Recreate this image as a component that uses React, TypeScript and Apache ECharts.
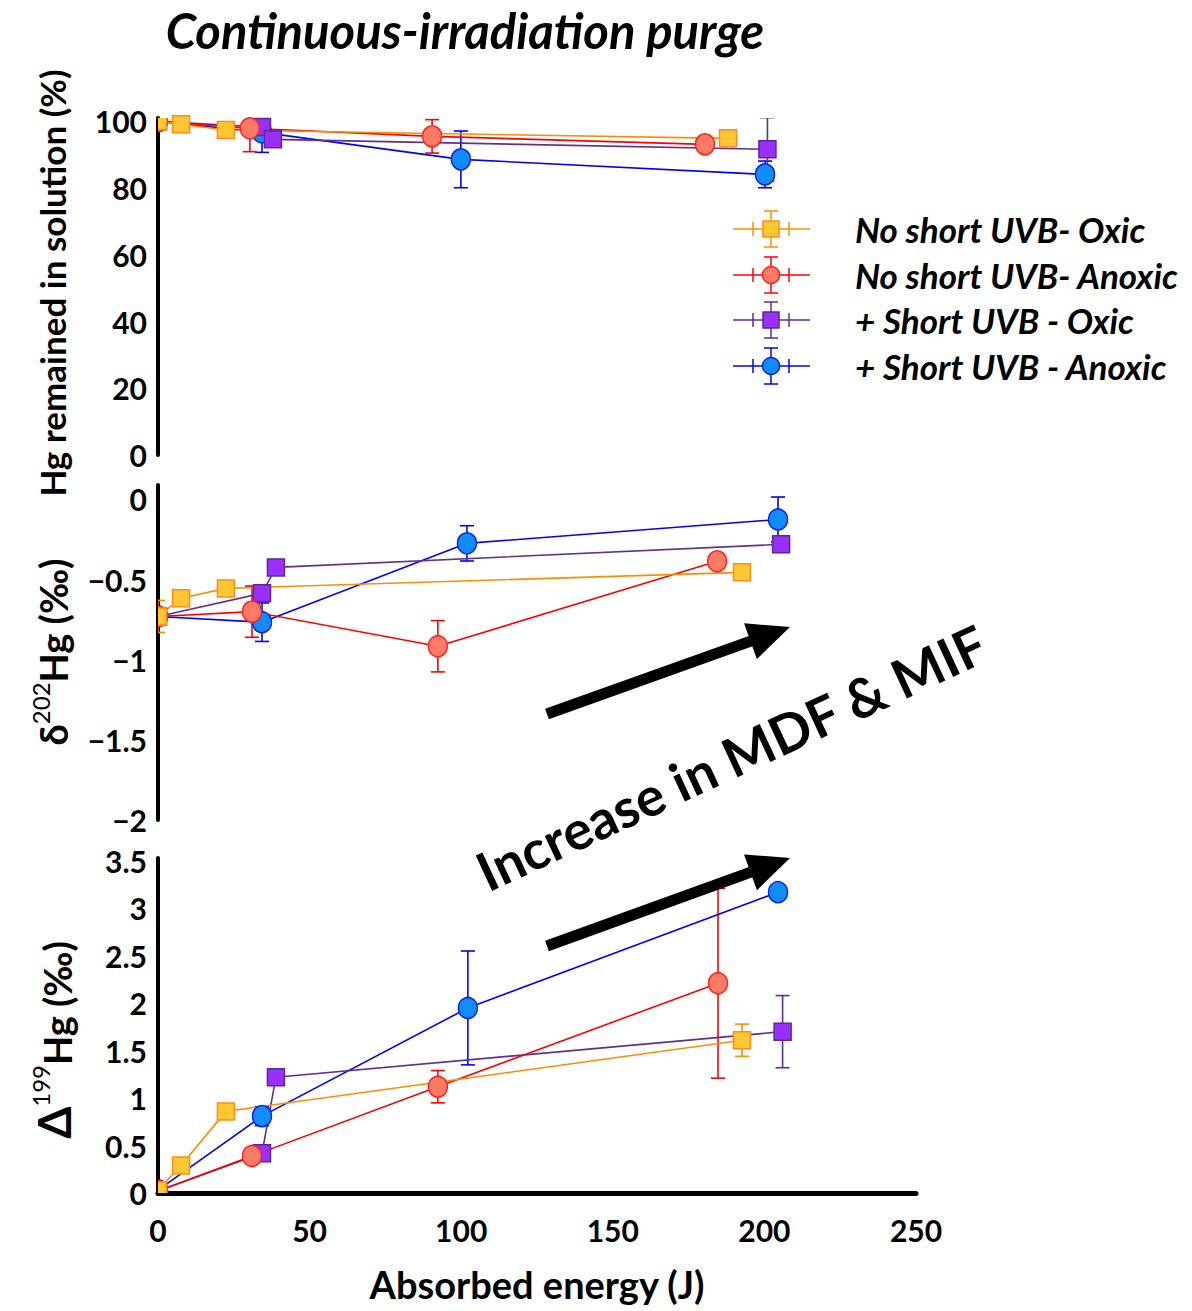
import React, { useEffect, useRef } from "react";
import * as echarts from "echarts";

// ---------- data: [absorbed energy (J), value, error] ----------
const X_MIN = 0;
const X_MAX = 250;
const X_INTERVAL = 50;

// Panel 1: Hg remained in solution (%)
const HG_NO_OXIC = [[0, 100, 0.5], [7.6, 99.1, 0.5], [22.4, 97.4, 0.8], [188, 94.9, 1]];
const HG_NO_ANOXIC = [[0, 100, 0], [30.3, 97.9, 7], [90.4, 95.5, 5], [180.4, 93.1, 1.5]];
const HG_SH_OXIC = [[0, 100, 0], [34.3, 98.3, 3], [37.9, 94.6, 1], [201, 91.6, 9.5]];
const HG_SH_ANOXIC = [[0, 100, 0], [34.3, 96.7, 6], [99.9, 88.6, 8.5], [200.2, 84.1, 4]];

// Panel 2: δ202Hg (‰)
const D202_NO_OXIC = [[0, -0.73, 0.1], [7.6, -0.617, 0.04], [22.4, -0.555, 0.04], [192.6, -0.455, 0.01]];
const D202_NO_ANOXIC = [[0, -0.73, 0], [31, -0.7, 0.16], [92.3, -0.916, 0.16], [184.4, -0.386, 0.02]];
const D202_SH_OXIC = [[0, -0.73, 0], [34.3, -0.586, 0.04], [38.9, -0.424, 0.02], [205.5, -0.28, 0.05]];
const D202_SH_ANOXIC = [[0, -0.73, 0], [34.3, -0.766, 0.12], [101.9, -0.274, 0.11], [204.5, -0.125, 0.14]];

// Panel 3: Δ199Hg (‰)
const D199_NO_OXIC = [[0, 0.03, 0.02], [7.6, 0.29, 0.03], [22.4, 0.86, 0.07], [192.6, 1.61, 0.17]];
const D199_NO_ANOXIC = [[0, 0.02, 0], [31, 0.39, 0.06], [92.3, 1.12, 0.17], [184.7, 2.21, 1.0]];
const D199_SH_OXIC = [[0, 0.02, 0], [34.3, 0.42, 0.03], [38.9, 1.22, 0.02], [206, 1.7, 0.38]];
const D199_SH_ANOXIC = [[0, 0.03, 0], [34.3, 0.81, 0.1], [102.2, 1.95, 0.6], [204.5, 3.17, 0.03]];

const LEGEND_LABELS = [
  "No short UVB- Oxic",
  "No short UVB- Anoxic",
  "+ Short UVB - Oxic",
  "+ Short UVB - Anoxic",
];

const PANEL_DATA = [
  [HG_NO_OXIC, HG_NO_ANOXIC, HG_SH_OXIC, HG_SH_ANOXIC],
  [D202_NO_OXIC, D202_NO_ANOXIC, D202_SH_OXIC, D202_SH_ANOXIC],
  [D199_NO_OXIC, D199_NO_ANOXIC, D199_SH_OXIC, D199_SH_ANOXIC],
];

// y-axis settings per panel: min, max (slightly above top tick), interval
const Y_AXES = [
  { min: 0, max: 101, interval: 20 },
  { min: -2, max: 0.09, interval: 0.5 },
  { min: 0, max: 3.53, interval: 0.5 },
];

// ---------- styles ----------
const GROUP_STYLES = [
  { fill: "#FFC832", stroke: "#FF8C1A", line: "#FF8C00", symbol: "rect" },
  { fill: "#FF7B66", stroke: "#FF2020", line: "#FF0000", symbol: "circle" },
  { fill: "#9930FF", stroke: "#5B2A8F", line: "#5E2E91", symbol: "rect" },
  { fill: "#108CFF", stroke: "#1020E0", line: "#0000FF", symbol: "circle" },
];
// draw order (first = bottom)
const DRAW_ORDER = [3, 2, 1, 0];

const FONT = "Lato, 'Open Sans', sans-serif";

const GRIDS = [
  { left: 158, width: 758, top: 118, height: 337 },
  { left: 158, width: 758, top: 485, height: 335 },
  { left: 158, width: 758, top: 858, height: 335 },
];

function fmtTick(v: number, interval: number) {
  const k = v / interval;
  if (Math.abs(k - Math.round(k)) > 1e-6) return "";
  if (v < 0) return "\u2212" + String(Math.abs(v));
  return String(v);
}

function arrow(tail: number[], tip: number[]) {
  const dx = tip[0] - tail[0];
  const dy = tip[1] - tail[1];
  const len = Math.sqrt(dx * dx + dy * dy);
  const ux = dx / len, uy = dy / len;
  const nx = -uy, ny = ux;
  const headLen = 42, headHalf = 19;
  const base = [tip[0] - ux * headLen, tip[1] - uy * headLen];
  return [
    {
      type: "line",
      z: 100,
      shape: { x1: tail[0], y1: tail[1], x2: base[0] + ux * 4, y2: base[1] + uy * 4 },
      style: { stroke: "#000", lineWidth: 11 },
    },
    {
      type: "polygon",
      z: 100,
      shape: {
        points: [
          [tip[0], tip[1]],
          [base[0] + nx * headHalf, base[1] + ny * headHalf],
          [base[0] - nx * headHalf, base[1] - ny * headHalf],
        ],
      },
      style: { fill: "#000" },
    },
  ];
}

function legendItem(i: number, y: number) {
  const s = GROUP_STYLES[i];
  const cx = 771;
  const st = { stroke: s.line, lineWidth: 1.5 };
  const els: any[] = [
    { type: "line", shape: { x1: 733, y1: y, x2: 810, y2: y }, style: st },
    { type: "line", shape: { x1: 753, y1: y - 7, x2: 753, y2: y + 7 }, style: st },
    { type: "line", shape: { x1: 789, y1: y - 7, x2: 789, y2: y + 7 }, style: st },
    { type: "line", shape: { x1: cx, y1: y - 18, x2: cx, y2: y + 18 }, style: st },
    { type: "line", shape: { x1: cx - 7, y1: y - 18, x2: cx + 7, y2: y - 18 }, style: st },
    { type: "line", shape: { x1: cx - 7, y1: y + 18, x2: cx + 7, y2: y + 18 }, style: st },
  ];
  if (s.symbol === "rect") {
    els.push({ type: "rect", shape: { x: cx - 8, y: y - 8, width: 16, height: 16 }, style: { fill: s.fill, stroke: s.stroke, lineWidth: 1.5 } });
  } else {
    els.push({ type: "circle", shape: { cx, cy: y, r: 8.5 }, style: { fill: s.fill, stroke: s.stroke, lineWidth: 1.5 } });
  }
  els.push({
    type: "text",
    x: 855,
    y,
    style: {
      text: LEGEND_LABELS[i],
      font: `italic bold 35px ${FONT}`,
      fill: "#000",
      textVerticalAlign: "middle",
      verticalAlign: "middle",
    },
  });
  return { type: "group", children: els };
}

export default function App() {
  const ref = useRef<HTMLDivElement>(null);

  useEffect(() => {
    if (!ref.current) return;
    const chart = echarts.init(ref.current, undefined, { renderer: "svg" });

    const xAxes = GRIDS.map((_, i) => ({
      type: "value",
      gridIndex: i,
      min: X_MIN,
      max: X_MAX,
      interval: X_INTERVAL,
      show: i === 2,
      splitLine: { show: false },
      axisTick: { show: false },
      axisLine: { show: i === 2, onZero: false, lineStyle: { color: "#000", width: 5 } },
      axisLabel: {
        show: i === 2,
        margin: 22,
        fontSize: 30,
        fontWeight: "bold",
        fontFamily: FONT,
        color: "#000",
      },
    }));

    const yAxes = Y_AXES.map((a, i) => ({
      type: "value",
      gridIndex: i,
      min: a.min,
      max: a.max,
      interval: a.interval,
      splitLine: { show: false },
      axisTick: { show: false },
      axisLine: { show: true, onZero: false, lineStyle: { color: "#000", width: 4 } },
      axisLabel: {
        margin: 11,
        fontSize: 30,
        fontWeight: "bold",
        fontFamily: FONT,
        color: "#000",
        formatter: (v: number) => fmtTick(v, a.interval),
      },
    }));

    const series: any[] = [];
    PANEL_DATA.forEach((groups, p) => {
      DRAW_ORDER.forEach((g) => {
        const data = groups[g];
        const s = GROUP_STYLES[g];
        // error bars
        series.push({
          type: "custom",
          xAxisIndex: p,
          yAxisIndex: p,
          z: 2,
          clip: true,
          data,
          encode: { x: 0, y: 1 },
          renderItem: (params: any, api: any) => {
            const x = api.value(0);
            const y = api.value(1);
            const e = api.value(2);
            if (!e) return null;
            const top = api.coord([x, y + e]);
            const bot = api.coord([x, y - e]);
            const cw = 7;
            const st = { stroke: s.line, lineWidth: 1.6 };
            return {
              type: "group",
              children: [
                { type: "line", shape: { x1: top[0], y1: top[1], x2: bot[0], y2: bot[1] }, style: st },
                { type: "line", shape: { x1: top[0] - cw, y1: top[1], x2: top[0] + cw, y2: top[1] }, style: st },
                { type: "line", shape: { x1: bot[0] - cw, y1: bot[1], x2: bot[0] + cw, y2: bot[1] }, style: st },
              ],
            };
          },
        });
        // lines + markers (points on the y axis are drawn clipped below)
        series.push({
          type: "line",
          name: LEGEND_LABELS[g],
          xAxisIndex: p,
          yAxisIndex: p,
          z: 3,
          data: data.map((d) =>
            d[0] === X_MIN ? { value: [d[0], d[1]], symbolSize: 0 } : [d[0], d[1]]
          ),
          symbol: s.symbol,
          symbolSize: s.symbol === "rect" ? 17 : [19, 21],
          showAllSymbol: true,
          lineStyle: { color: s.line, width: 1.6 },
          itemStyle: { color: s.fill, borderColor: s.stroke, borderWidth: 1.5 },
          emphasis: { disabled: true },
        });
        // markers at x = 0, clipped to the plot area
        series.push({
          type: "custom",
          xAxisIndex: p,
          yAxisIndex: p,
          z: 4,
          clip: true,
          data: data.filter((d) => d[0] === X_MIN),
          encode: { x: 0, y: 1 },
          renderItem: (params: any, api: any) => {
            const c = api.coord([api.value(0), api.value(1)]);
            const st = { fill: s.fill, stroke: s.stroke, lineWidth: 1.5 };
            if (s.symbol === "rect") {
              return { type: "rect", shape: { x: c[0] - 8.5, y: c[1] - 8.5, width: 17, height: 17 }, style: st };
            }
            return { type: "ellipse", shape: { cx: c[0], cy: c[1], rx: 9.5, ry: 10.5 }, style: st };
          },
        });
      });
    });

    const graphic: any[] = [
      {
        type: "text",
        x: 465,
        y: 30,
        style: {
          text: "Continuous-irradiation purge",
          font: `italic bold 49px ${FONT}`,
          fill: "#000",
          textAlign: "center",
          textVerticalAlign: "middle",
          align: "center",
          verticalAlign: "middle",
        },
      },
      {
        type: "text",
        x: 52,
        y: 283,
        rotation: Math.PI / 2,
        style: {
          text: "Hg remained in solution (%)",
          font: `bold 35px ${FONT}`,
          fill: "#000",
          align: "center",
          verticalAlign: "middle",
          textAlign: "center",
          textVerticalAlign: "middle",
        },
      },
      {
        type: "text",
        x: 50,
        y: 652,
        rotation: Math.PI / 2,
        style: {
          text: "{m|δ}{s|202}{m|Hg (‰)}",
          align: "center",
          verticalAlign: "middle",
          textAlign: "center",
          textVerticalAlign: "middle",
          rich: {
            m: { font: `bold 38px ${FONT}`, fill: "#000", verticalAlign: "bottom", lineHeight: 44 },
            s: { font: `24px ${FONT}`, fill: "#000", verticalAlign: "top", lineHeight: 44, padding: [0, 0, 16, 0] },
          },
        },
      },
      {
        type: "text",
        x: 52,
        y: 1040,
        rotation: Math.PI / 2,
        style: {
          text: "{d|Δ}{s|199}{m|Hg (‰)}",
          align: "center",
          verticalAlign: "middle",
          textAlign: "center",
          textVerticalAlign: "middle",
          rich: {
            d: { font: `bold 46px ${FONT}`, fill: "#000", verticalAlign: "bottom", lineHeight: 48 },
            m: { font: `bold 38px ${FONT}`, fill: "#000", verticalAlign: "bottom", lineHeight: 48 },
            s: { font: `24px ${FONT}`, fill: "#000", verticalAlign: "top", lineHeight: 48, padding: [0, 0, 18, 0] },
          },
        },
      },
      {
        type: "text",
        x: 537,
        y: 1284,
        style: {
          text: "Absorbed energy (J)",
          font: `bold 38px ${FONT}`,
          fill: "#000",
          align: "center",
          verticalAlign: "middle",
          textAlign: "center",
          textVerticalAlign: "middle",
        },
      },
      {
        type: "text",
        x: 731,
        y: 757,
        z: 100,
        rotation: 0.435,
        style: {
          text: "Increase in MDF & MIF",
          font: `bold 54px ${FONT}`,
          fill: "#000",
          align: "center",
          verticalAlign: "middle",
          textAlign: "center",
          textVerticalAlign: "middle",
        },
      },
      ...arrow([547, 714], [790, 627]),
      ...arrow([547, 946], [790, 858]),
      legendItem(0, 229),
      legendItem(1, 275),
      legendItem(2, 320),
      legendItem(3, 366),
    ];

    chart.setOption({
      animation: false,
      backgroundColor: "#fff",
      grid: GRIDS,
      xAxis: xAxes,
      yAxis: yAxes,
      series,
      graphic,
    });

    return () => chart.dispose();
  }, []);

  return (
    <div
      ref={ref}
      style={{ position: "absolute", left: 0, top: 0, width: 1192, height: 1311, background: "#fff" }}
    />
  );
}
